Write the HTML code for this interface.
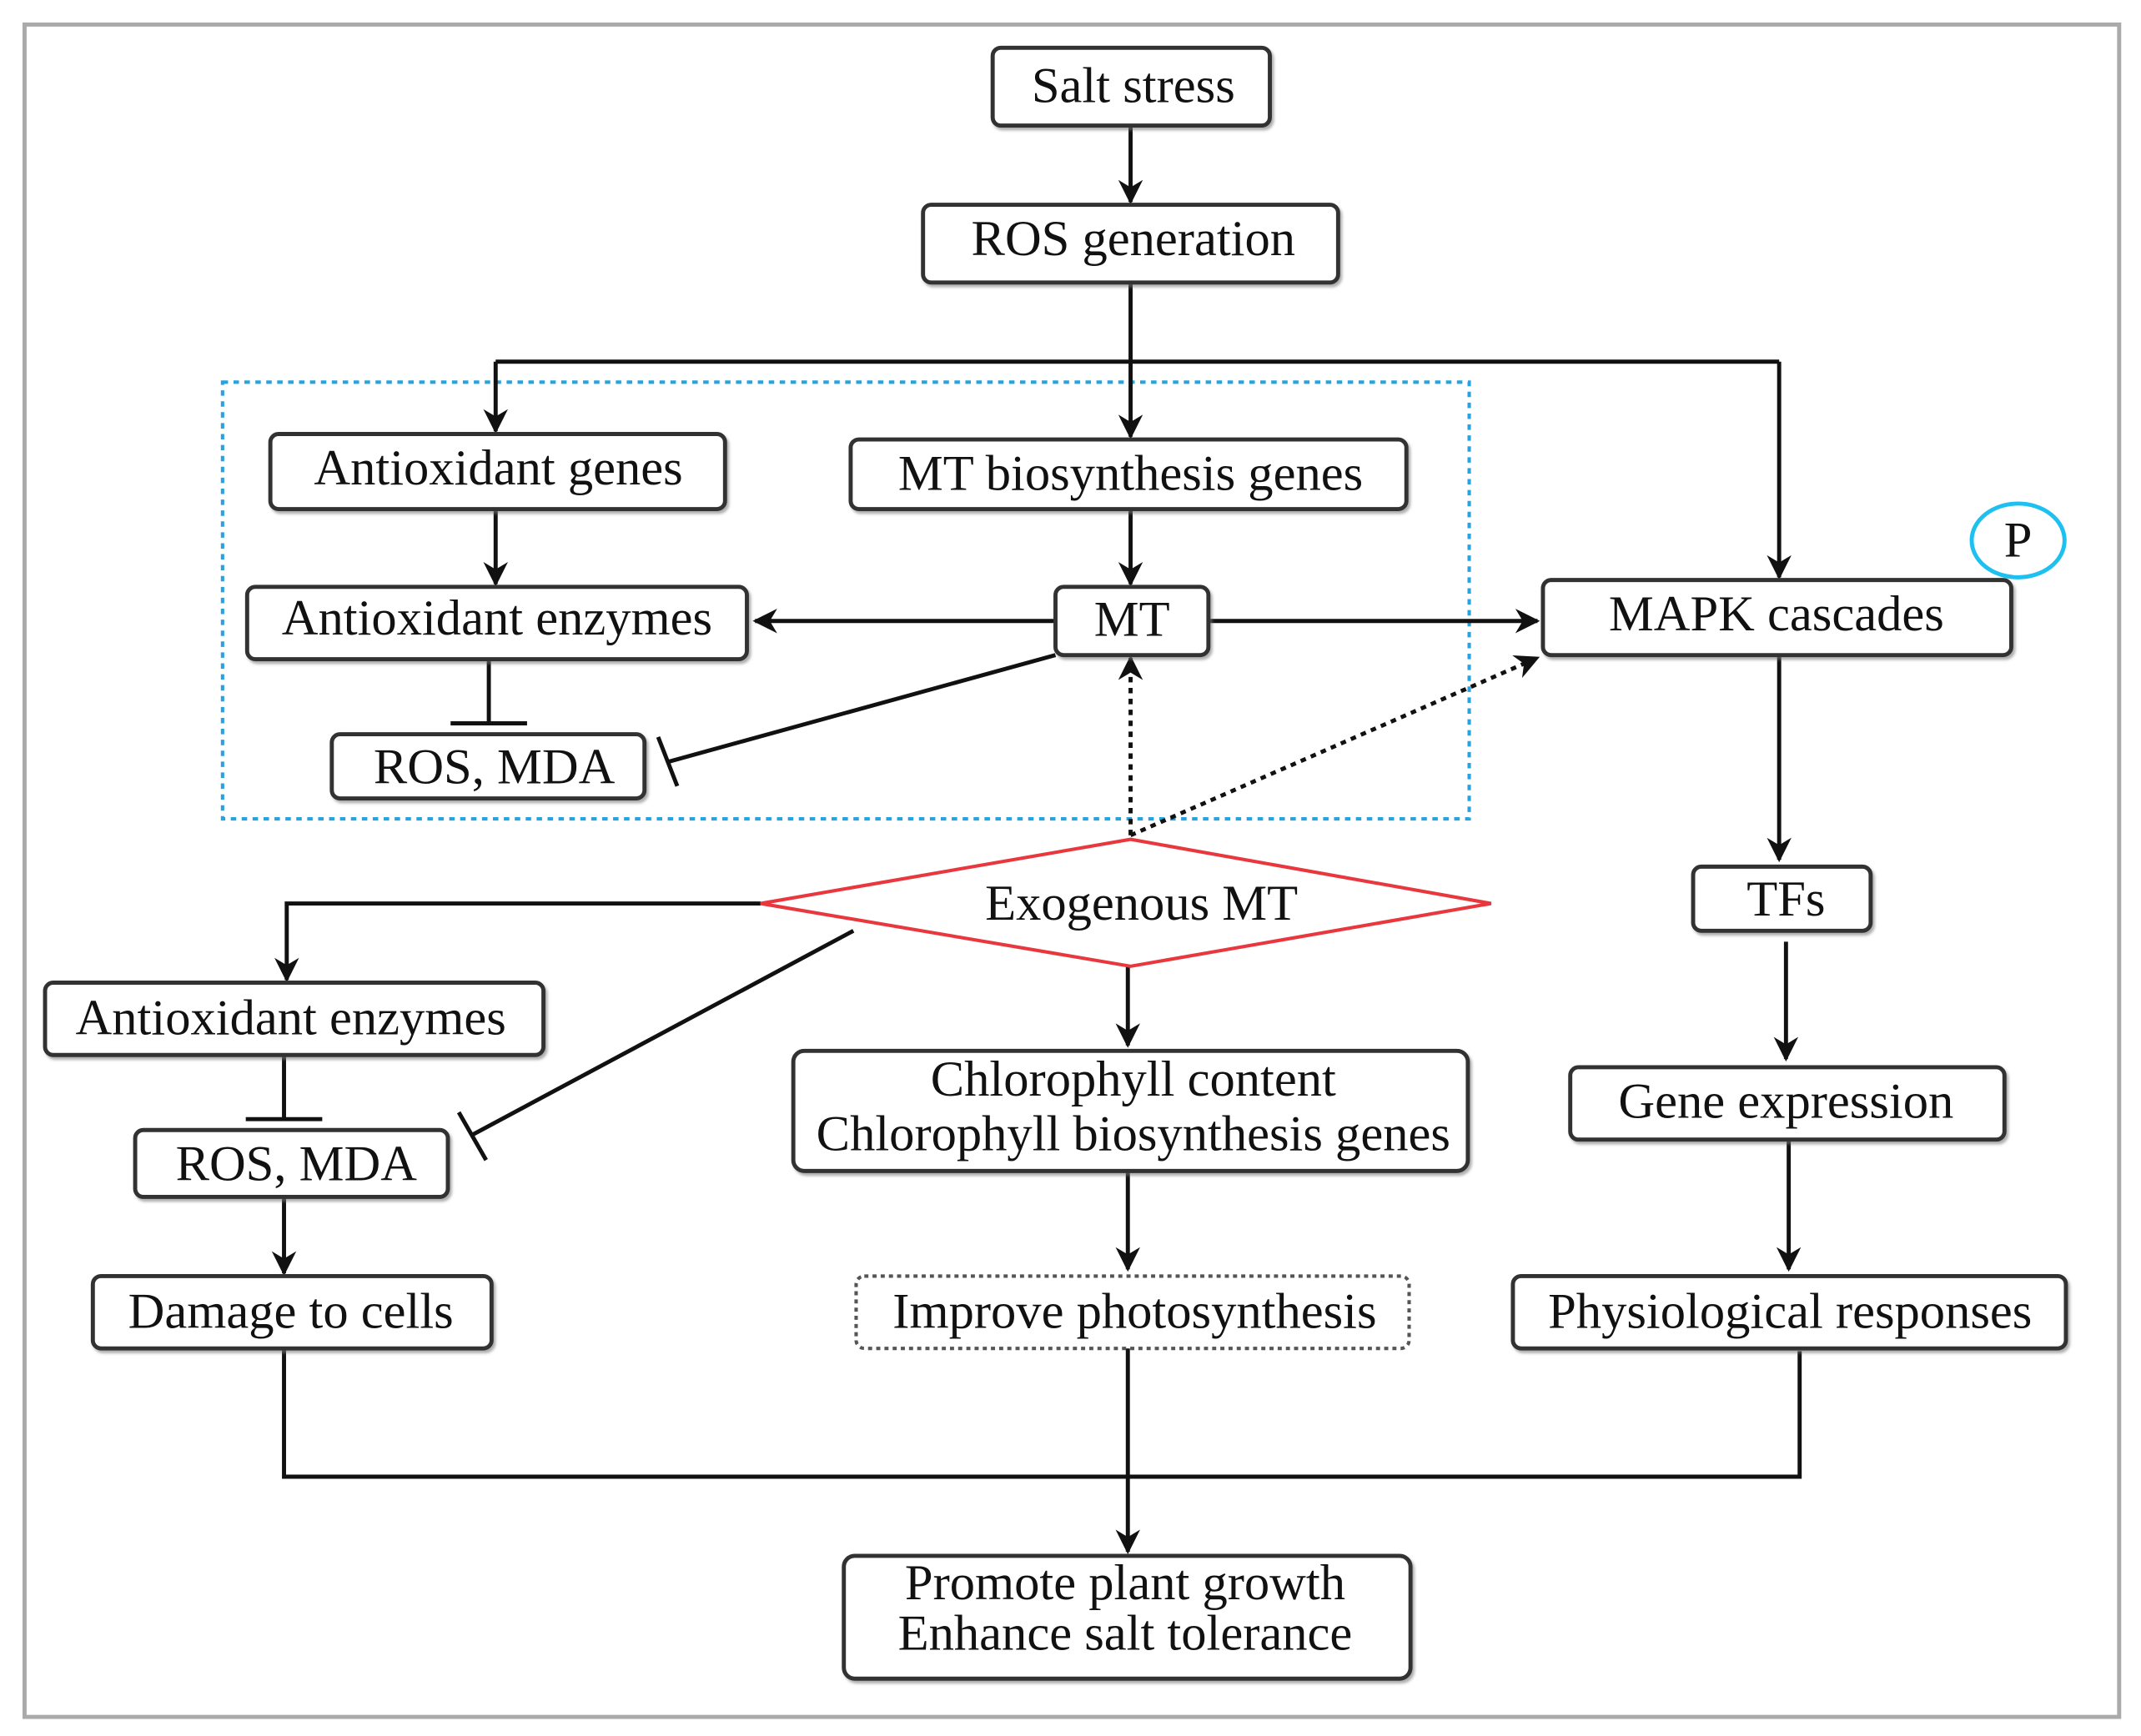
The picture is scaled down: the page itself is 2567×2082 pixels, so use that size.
<!DOCTYPE html>
<html><head><meta charset="utf-8"><style>
html,body{margin:0;padding:0;background:#fff;}
svg{display:block;}
text{font-family:"Liberation Serif",serif;font-size:37px;fill:#111;text-anchor:middle;dominant-baseline:central;}
.b{fill:#fff;stroke:#333;stroke-width:3;filter:url(#s);}
.l{stroke:#111;stroke-width:3;fill:none;}
</style></head><body>
<svg width="2567" height="2082" viewBox="0 0 1568 1272" preserveAspectRatio="none" xmlns="http://www.w3.org/2000/svg">
<defs>
<marker id="a" viewBox="0 0 10 10" refX="9" refY="5" markerWidth="6" markerHeight="6" orient="auto-start-reverse" markerUnits="strokeWidth"><path d="M0,0 L10,5 L0,10 L3,5 z" fill="#111"/></marker>
<filter id="s" x="-5%" y="-10%" width="110%" height="130%"><feDropShadow dx="1.5" dy="2" stdDeviation="1" flood-color="#777" flood-opacity="0.6"/></filter>
</defs>
<rect x="18" y="18" width="1534" height="1240" fill="none" stroke="#aaa" stroke-width="3"/>
<rect x="163" y="280" width="913" height="320" fill="none" stroke="#29a3e0" stroke-width="2.5" stroke-dasharray="4,4"/>

<path class="l" d="M828,92 V148" marker-end="url(#a)"/>
<path class="l" d="M828,207 V265 M363,265 H1303"/>
<path class="l" d="M363,265 V316" marker-end="url(#a)"/>
<path class="l" d="M828,265 V320" marker-end="url(#a)"/>
<path class="l" d="M1303,265 V423" marker-end="url(#a)"/>
<path class="l" d="M363,373 V428" marker-end="url(#a)"/>
<path class="l" d="M828,373 V428" marker-end="url(#a)"/>
<path class="l" d="M773,455 H553" marker-end="url(#a)"/>
<path class="l" d="M885,455 H1126" marker-end="url(#a)"/>
<path class="l" d="M358,483 V530 M330,530 H386"/>
<path class="l" d="M773,480 L490,558 M482,540 L496,576"/>
<path class="l" d="M828,612 V482" stroke-dasharray="4,4" stroke-width="4" marker-end="url(#a)"/>
<path class="l" d="M828,612 L1126,482" stroke-dasharray="4,4" stroke-width="4" marker-end="url(#a)"/>
<path class="l" d="M557,662 H210 V718" marker-end="url(#a)"/>
<path class="l" d="M208,773 V820 M180,820 H236"/>
<path class="l" d="M625,682 L345,832 M336,815 L356,850" stroke-width="2"/>
<path class="l" d="M208,877 V933" marker-end="url(#a)"/>
<path class="l" d="M826,708 V766" marker-end="url(#a)"/>
<path class="l" d="M826,858 V930" marker-end="url(#a)"/>
<path class="l" d="M1303,480 V630" marker-end="url(#a)"/>
<path class="l" d="M1308,690 V776" marker-end="url(#a)"/>
<path class="l" d="M1310,835 V930" marker-end="url(#a)"/>
<path class="l" d="M208,988 V1082 H1318 V990"/>
<path class="l" d="M826,988 V1137" marker-end="url(#a)"/>

<rect class="b" x="727" y="35" width="203" height="57" rx="6"/><text x="830" y="63">Salt stress</text>
<rect class="b" x="676" y="150" width="304" height="57" rx="6"/><text x="830" y="175">ROS generation</text>
<rect class="b" x="198" y="318" width="333" height="55" rx="6"/><text x="365" y="343">Antioxidant genes</text>
<rect class="b" x="623" y="322" width="407" height="51" rx="6"/><text x="828" y="347">MT biosynthesis genes</text>
<rect class="b" x="181" y="430" width="366" height="53" rx="6"/><text x="364" y="453">Antioxidant enzymes</text>
<rect class="b" x="773" y="430" width="112" height="50" rx="6"/><text x="829" y="454">MT</text>
<rect class="b" x="1130" y="425" width="343" height="55" rx="6"/><text x="1301" y="450">MAPK cascades</text>
<ellipse cx="1478" cy="396" rx="34" ry="27" fill="#fff" stroke="#1ec0f0" stroke-width="3"/><text x="1478" y="396">P</text>
<rect class="b" x="243" y="538" width="229" height="47" rx="6"/><text x="362" y="562">ROS, MDA</text>
<polygon points="557,662 828,615 1092,662 828,708" fill="#fff" stroke="#e8383d" stroke-width="2.5"/>
<text x="836" y="662">Exogenous MT</text>
<rect class="b" x="33" y="720" width="365" height="53" rx="6"/><text x="213" y="746">Antioxidant enzymes</text>
<rect class="b" x="1240" y="635" width="130" height="47" rx="6"/><text x="1308" y="659">TFs</text>
<rect class="b" x="581" y="770" width="494" height="88" rx="8"/><text x="830" y="791">Chlorophyll content</text><text x="830" y="831">Chlorophyll biosynthesis genes</text>
<rect class="b" x="1150" y="782" width="318" height="53" rx="6"/><text x="1308" y="807">Gene expression</text>
<rect class="b" x="99" y="828" width="229" height="49" rx="6"/><text x="217" y="853">ROS, MDA</text>
<rect class="b" x="68" y="935" width="292" height="53" rx="6"/><text x="213" y="961">Damage to cells</text>
<rect x="627" y="935" width="405" height="53" rx="6" fill="#fff" stroke="#555" stroke-width="2.5" stroke-dasharray="3,3"/><text x="831" y="961">Improve photosynthesis</text>
<rect class="b" x="1108" y="935" width="405" height="53" rx="6"/><text x="1311" y="961">Physiological responses</text>
<rect class="b" x="618" y="1140" width="415" height="90" rx="8"/><text x="824" y="1160">Promote plant growth</text><text x="824" y="1197">Enhance salt tolerance</text>
</svg>
</body></html>
